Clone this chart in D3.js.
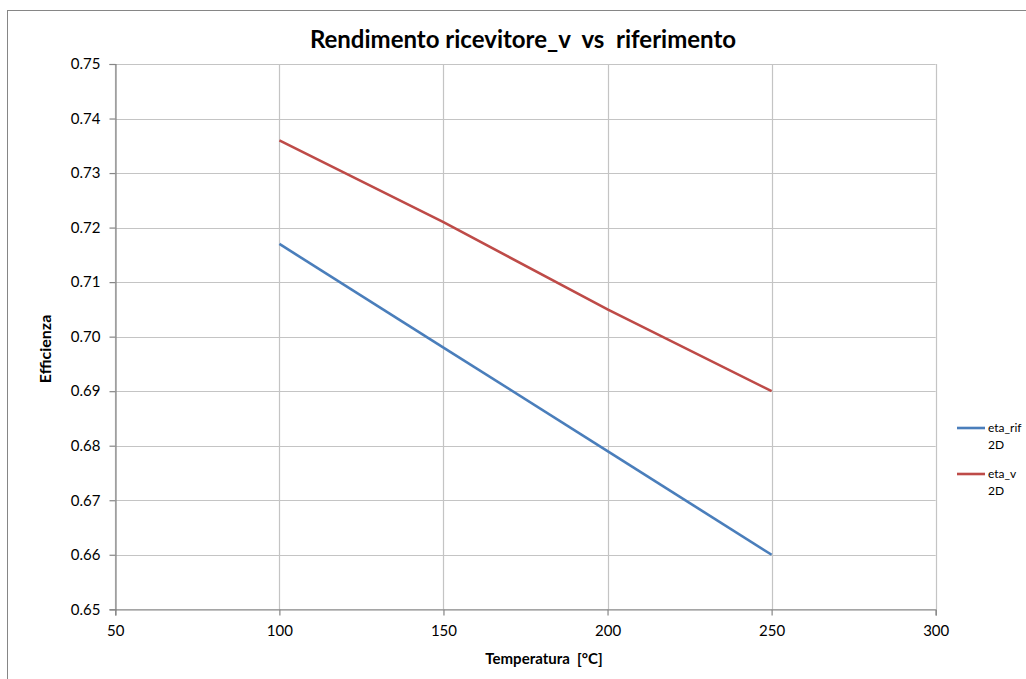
<!DOCTYPE html>
<html><head><meta charset="utf-8">
<script src="https://cdn.jsdelivr.net/npm/d3@7"></script>
<style>body{margin:0;background:#fff}svg{display:block}text{font-family:Lato,"Open Sans",sans-serif;fill:#000;white-space:pre}</style>
</head><body><svg id="c" width="1026" height="679"></svg>
<script>
const temps = [100, 150, 200, 250];
const etaRif = [0.717, 0.698, 0.679, 0.660];
const etaV = [0.736, 0.721, 0.705, 0.690];
const seriesNames = ["eta_rif 2D", "eta_v 2D"];
const seriesColors = ["#4a7ebb", "#be4b48"];
const xTicks = [50, 100, 150, 200, 250, 300];
const yTicks = [0.65, 0.66, 0.67, 0.68, 0.69, 0.70, 0.71, 0.72, 0.73, 0.74, 0.75];

const svg = d3.select("#c");
svg.append("rect").attr("x",7.5).attr("y",10.5).attr("width",1030).attr("height",680)
  .attr("fill","none").attr("stroke","#868686");

const x = d3.scaleLinear().domain([50,300]).range([115.3,935.7]);
const y = d3.scaleLinear().domain([0.65,0.75]).range([609.3,64]);

const g = svg.append("g");
g.selectAll("line.hg").data(yTicks).join("line")
  .attr("x1",x(50)).attr("x2",x(300)).attr("y1",d=>Math.round(y(d))+0.5).attr("y2",d=>Math.round(y(d))+0.5)
  .attr("stroke","#c4c4c4").attr("stroke-width",1.2);
g.selectAll("line.vg").data(xTicks).join("line")
  .attr("y1",y(0.65)).attr("y2",y(0.75)).attr("x1",d=>Math.round(x(d))+0.5).attr("x2",d=>Math.round(x(d))+0.5)
  .attr("stroke","#c4c4c4").attr("stroke-width",1.2);

const yAxis = d3.axisLeft(y).tickValues(yTicks).tickFormat(d3.format(".2f")).tickSize(6).tickPadding(9);
const xAxis = d3.axisBottom(x).tickValues(xTicks).tickFormat(d3.format("d")).tickSize(6).tickPadding(10);
const ya = svg.append("g").attr("transform",`translate(${Math.round(x(50))+0.5},0)`).call(yAxis);
const xa = svg.append("g").attr("transform",`translate(0,${Math.round(y(0.65))+0.5})`).call(xAxis);
[ya,xa].forEach(a=>{
  a.selectAll("path,line").attr("stroke","#868686").attr("stroke-width",1.2);
  a.selectAll("text").attr("font-size",15).attr("fill","#1a1a1a").style("font-family","Lato, 'Open Sans', sans-serif");
});

const line = d3.line().x((d,i)=>x(temps[i])).y(d=>y(d));
[etaRif, etaV].forEach((s,i)=>{
  svg.append("path").datum(s).attr("d",line).attr("fill","none")
    .attr("stroke",seriesColors[i]).attr("stroke-width",2.6);
});

svg.append("text").attr("x",523).attr("y",48).attr("text-anchor","middle")
  .attr("font-size",24).attr("font-weight","bold").text("Rendimento ricevitore_v  vs  riferimento");
svg.append("text").attr("transform","translate(51,349) rotate(-90)").attr("text-anchor","middle")
  .attr("font-size",16).attr("font-weight","bold").text("Efficienza");
svg.append("text").attr("x",544).attr("y",664).attr("text-anchor","middle")
  .attr("font-size",15).attr("font-weight","bold").text("Temperatura  [°C]");

const leg = svg.append("g");
seriesNames.forEach((n,i)=>{
  const yy = 428 + i*46;
  leg.append("line").attr("x1",957).attr("x2",985).attr("y1",yy).attr("y2",yy)
    .attr("stroke",seriesColors[i]).attr("stroke-width",2.6);
  n.split(" ").forEach((p,j)=>{
    leg.append("text").attr("x",988).attr("y",yy+4+j*17).attr("font-size",12).attr("fill","#222").text(p);
  });
});
</script></body></html>
